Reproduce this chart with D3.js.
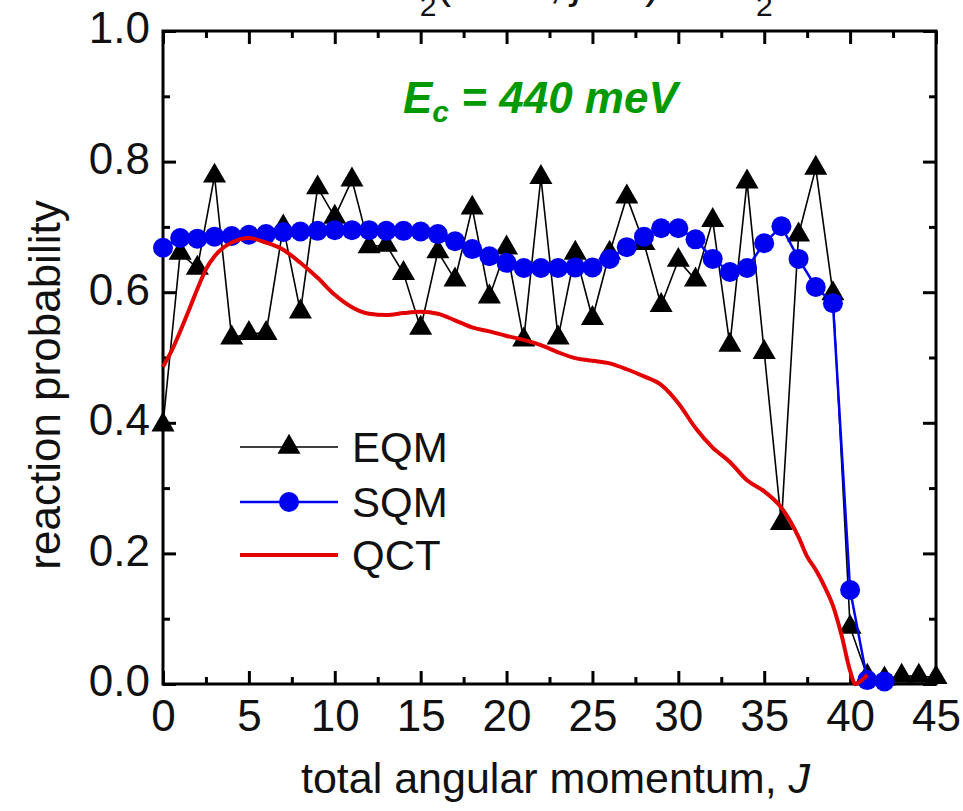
<!DOCTYPE html>
<html lang="en">
<head>
<meta charset="utf-8">
<title>reaction probability vs J</title>
<script src="https://d3js.org/d3.v7.min.js"></script>
<style>
  body { margin: 0; background: #fff; }
  text { font-family: Arial, "Liberation Sans", sans-serif; fill: #111; }
</style>
</head>
<body>
<script>
// --- data ---
var eqmJ = d3.range(0, 46);
var eqmP = [0.397, 0.66, 0.637, 0.778, 0.53, 0.537, 0.537, 0.70, 0.57, 0.76,
            0.715, 0.772, 0.67, 0.672, 0.629, 0.545, 0.662, 0.619, 0.729, 0.593,
            0.668, 0.527, 0.776, 0.53, 0.66, 0.56, 0.66, 0.746, 0.675, 0.58,
            0.649, 0.619, 0.71, 0.519, 0.769, 0.508, 0.246, 0.688, 0.79, 0.598,
            0.087, 0.012, 0.008, 0.012, 0.012, 0.01];

var sqmJ = d3.range(0, 43);
var sqmP = [0.668, 0.683, 0.682, 0.685, 0.686, 0.688, 0.689, 0.692, 0.693, 0.694,
            0.695, 0.695, 0.695, 0.694, 0.694, 0.693, 0.689, 0.678, 0.666, 0.655,
            0.645, 0.637, 0.637, 0.637, 0.638, 0.638, 0.651, 0.669, 0.685, 0.698,
            0.698, 0.681, 0.651, 0.631, 0.637, 0.675, 0.701, 0.651, 0.608, 0.583,
            0.144, 0.006, 0.004];

var qctJ = [0, 0.5, 1, 1.5, 2, 2.5, 3, 3.5, 4, 5, 6, 7, 8, 9, 10, 11, 12, 13, 14,
            15, 16, 17, 18, 19, 20, 21, 22, 23, 24, 25, 26, 27, 28, 29, 30, 31, 32,
            33, 34, 35, 36, 37, 37.5, 38, 38.5, 39, 39.5, 40, 40.3, 40.6, 41];
var qctP = [0.486, 0.51, 0.54, 0.572, 0.605, 0.635, 0.655, 0.668, 0.676, 0.683,
            0.676, 0.665, 0.645, 0.622, 0.596, 0.577, 0.567, 0.565, 0.568, 0.57,
            0.567, 0.557, 0.546, 0.54, 0.533, 0.527, 0.519, 0.508, 0.499, 0.495,
            0.491, 0.482, 0.471, 0.458, 0.43, 0.392, 0.362, 0.34, 0.312, 0.295,
            0.27, 0.225, 0.195, 0.175, 0.15, 0.12, 0.075, 0.02, 0.0, 0.004, 0.014];

var xMajor = [0, 5, 10, 15, 20, 25, 30, 35, 40, 45];
var yMajor = [0, 0.2, 0.4, 0.6, 0.8, 1.0];
var seriesNames = ["EQM", "SQM", "QCT"];

// --- layout ---
var w = 963, h = 811;
var margin = {left: 163, right: 27, top: 31, bottom: 127};

var svg = d3.select("body").append("svg")
  .attr("width", w).attr("height", h)
  .style("display", "block");
svg.append("rect").attr("width", w).attr("height", h).attr("fill", "#fff");

var xScale = d3.scaleLinear().domain([0, 45]).range([margin.left, w - margin.right]);
var yScale = d3.scaleLinear().domain([0, 1]).range([h - margin.bottom, margin.top]);

// title, cut off at the top edge like in the original figure
var title = svg.append("text").attr("x", 306).attr("y", -2).style("font-size", "44px");
title.append("tspan").text("H + H");
title.append("tspan").attr("dy", 18).style("font-size", "30px").text("2");
title.append("tspan").attr("dy", -18).text("(v=0");
title.append("tspan").attr("x", 549).text(", ");
title.append("tspan").style("font-style", "italic").text("j");
title.append("tspan").text("=0");
title.append("tspan").attr("x", 645).text(")");
title.append("tspan").attr("x", 672).text("\u2192");
title.append("tspan").attr("x", 722).text("H");
title.append("tspan").attr("x", 756).attr("dy", 18).style("font-size", "30px").text("2");
title.append("tspan").attr("x", 776).attr("dy", -18).text("+ H");

// minor ticks
var minorX = d3.range(2.5, 45, 5);
var minorY = d3.range(0.1, 1, 0.2);

function styleAxis(g) {
  g.select(".domain").remove();
  g.selectAll(".tick line").attr("stroke", "#000").attr("stroke-width", 3);
  g.selectAll(".tick text").style("font-size", "44px").attr("fill", "#111")
    .style("font-family", "Arial, 'Liberation Sans', sans-serif");
}

var x0 = yScale(0), y1 = yScale(1), xl = xScale(0), xr = xScale(45);

// bottom
svg.append("g").attr("transform", "translate(0," + x0 + ")")
  .call(d3.axisBottom(xScale).tickValues(xMajor).tickFormat(d3.format("d"))
    .tickSizeInner(-13).tickSizeOuter(0).tickPadding(16))
  .call(styleAxis);
svg.append("g").attr("transform", "translate(0," + x0 + ")")
  .call(d3.axisBottom(xScale).tickValues(minorX).tickFormat("").tickSizeInner(-7).tickSizeOuter(0))
  .call(styleAxis);
// top
svg.append("g").attr("transform", "translate(0," + y1 + ")")
  .call(d3.axisTop(xScale).tickValues(xMajor).tickFormat("").tickSizeInner(-13).tickSizeOuter(0))
  .call(styleAxis);
svg.append("g").attr("transform", "translate(0," + y1 + ")")
  .call(d3.axisTop(xScale).tickValues(minorX).tickFormat("").tickSizeInner(-7).tickSizeOuter(0))
  .call(styleAxis);
// left
svg.append("g").attr("transform", "translate(" + xl + ",0)")
  .call(d3.axisLeft(yScale).tickValues(yMajor).tickFormat(d3.format(".1f"))
    .tickSizeInner(-13).tickSizeOuter(0).tickPadding(13))
  .call(styleAxis)
  .selectAll(".tick text").attr("dy", "0.27em");
svg.append("g").attr("transform", "translate(" + xl + ",0)")
  .call(d3.axisLeft(yScale).tickValues(minorY).tickFormat("").tickSizeInner(-7).tickSizeOuter(0))
  .call(styleAxis);
// right
svg.append("g").attr("transform", "translate(" + xr + ",0)")
  .call(d3.axisRight(yScale).tickValues(yMajor).tickFormat("").tickSizeInner(-13).tickSizeOuter(0))
  .call(styleAxis);
svg.append("g").attr("transform", "translate(" + xr + ",0)")
  .call(d3.axisRight(yScale).tickValues(minorY).tickFormat("").tickSizeInner(-7).tickSizeOuter(0))
  .call(styleAxis);

// frame
svg.append("rect")
  .attr("x", xl).attr("y", y1).attr("width", xr - xl).attr("height", x0 - y1)
  .attr("fill", "none").attr("stroke", "#000").attr("stroke-width", 3);

// axis titles
var xt = svg.append("text").attr("x", (xl + xr) / 2 + 6).attr("y", 793)
  .attr("text-anchor", "middle").style("font-size", "43px");
xt.append("tspan").text("total angular momentum, ");
xt.append("tspan").style("font-style", "italic").text("J");

svg.append("text")
  .attr("transform", "translate(60," + 385 + ") rotate(-90)")
  .attr("text-anchor", "middle").style("font-size", "44px")
  .text("reaction probability");

// series
var line = d3.line().x(function(d) { return xScale(d[0]); }).y(function(d) { return yScale(d[1]); });
var eqm = eqmJ.map(function(j, i) { return [j, eqmP[i]]; });
var sqm = sqmJ.map(function(j, i) { return [j, sqmP[i]]; });
var qct = qctJ.map(function(j, i) { return [j, qctP[i]]; });

var tri = d3.symbol().type(d3.symbolTriangle).size(230);

svg.append("path").datum(eqm).attr("d", line)
  .attr("fill", "none").attr("stroke", "#000").attr("stroke-width", 1.6);
svg.selectAll(".eqm").data(eqm).enter().append("path")
  .attr("class", "eqm").attr("d", tri)
  .attr("transform", function(d) { return "translate(" + xScale(d[0]) + "," + yScale(d[1]) + ")"; })
  .attr("fill", "#000");

svg.append("path").datum(sqm).attr("d", line)
  .attr("fill", "none").attr("stroke", "#0000f0").attr("stroke-width", 2.5);
svg.selectAll(".sqm").data(sqm).enter().append("circle")
  .attr("class", "sqm")
  .attr("cx", function(d) { return xScale(d[0]); })
  .attr("cy", function(d) { return yScale(d[1]); })
  .attr("r", 10).attr("fill", "#0000f0");

svg.append("path").datum(qct).attr("d", line.curve(d3.curveMonotoneX))
  .attr("fill", "none").attr("stroke", "#e30000").attr("stroke-width", 4);

// energy label
var ec = svg.append("text").attr("x", 403).attr("y", 113)
  .style("font-size", "44px").style("font-weight", "bold").style("font-style", "italic")
  .attr("fill", "#009900");
ec.append("tspan").attr("fill", "#009900").text("E");
ec.append("tspan").attr("fill", "#009900").attr("dy", 9).style("font-size", "30px").text("c");
ec.append("tspan").attr("fill", "#009900").attr("dy", -9).text(" = 440 meV");

// legend
var legY = [447, 502, 555];
var lg = svg.append("g");
lg.append("line").attr("x1", 240).attr("x2", 338).attr("y1", legY[0]).attr("y2", legY[0])
  .attr("stroke", "#000").attr("stroke-width", 1.6);
lg.append("path").attr("d", tri).attr("transform", "translate(289," + legY[0] + ")").attr("fill", "#000");
lg.append("line").attr("x1", 240).attr("x2", 338).attr("y1", legY[1]).attr("y2", legY[1])
  .attr("stroke", "#0000f0").attr("stroke-width", 2.5);
lg.append("circle").attr("cx", 289).attr("cy", legY[1]).attr("r", 10).attr("fill", "#0000f0");
lg.append("line").attr("x1", 240).attr("x2", 338).attr("y1", legY[2]).attr("y2", legY[2])
  .attr("stroke", "#e30000").attr("stroke-width", 4);
lg.selectAll(".lt").data(seriesNames).enter().append("text")
  .attr("x", 352).attr("y", function(d, i) { return legY[i] + 15; })
  .style("font-size", "42px").text(function(d) { return d; });
</script>
</body>
</html>
